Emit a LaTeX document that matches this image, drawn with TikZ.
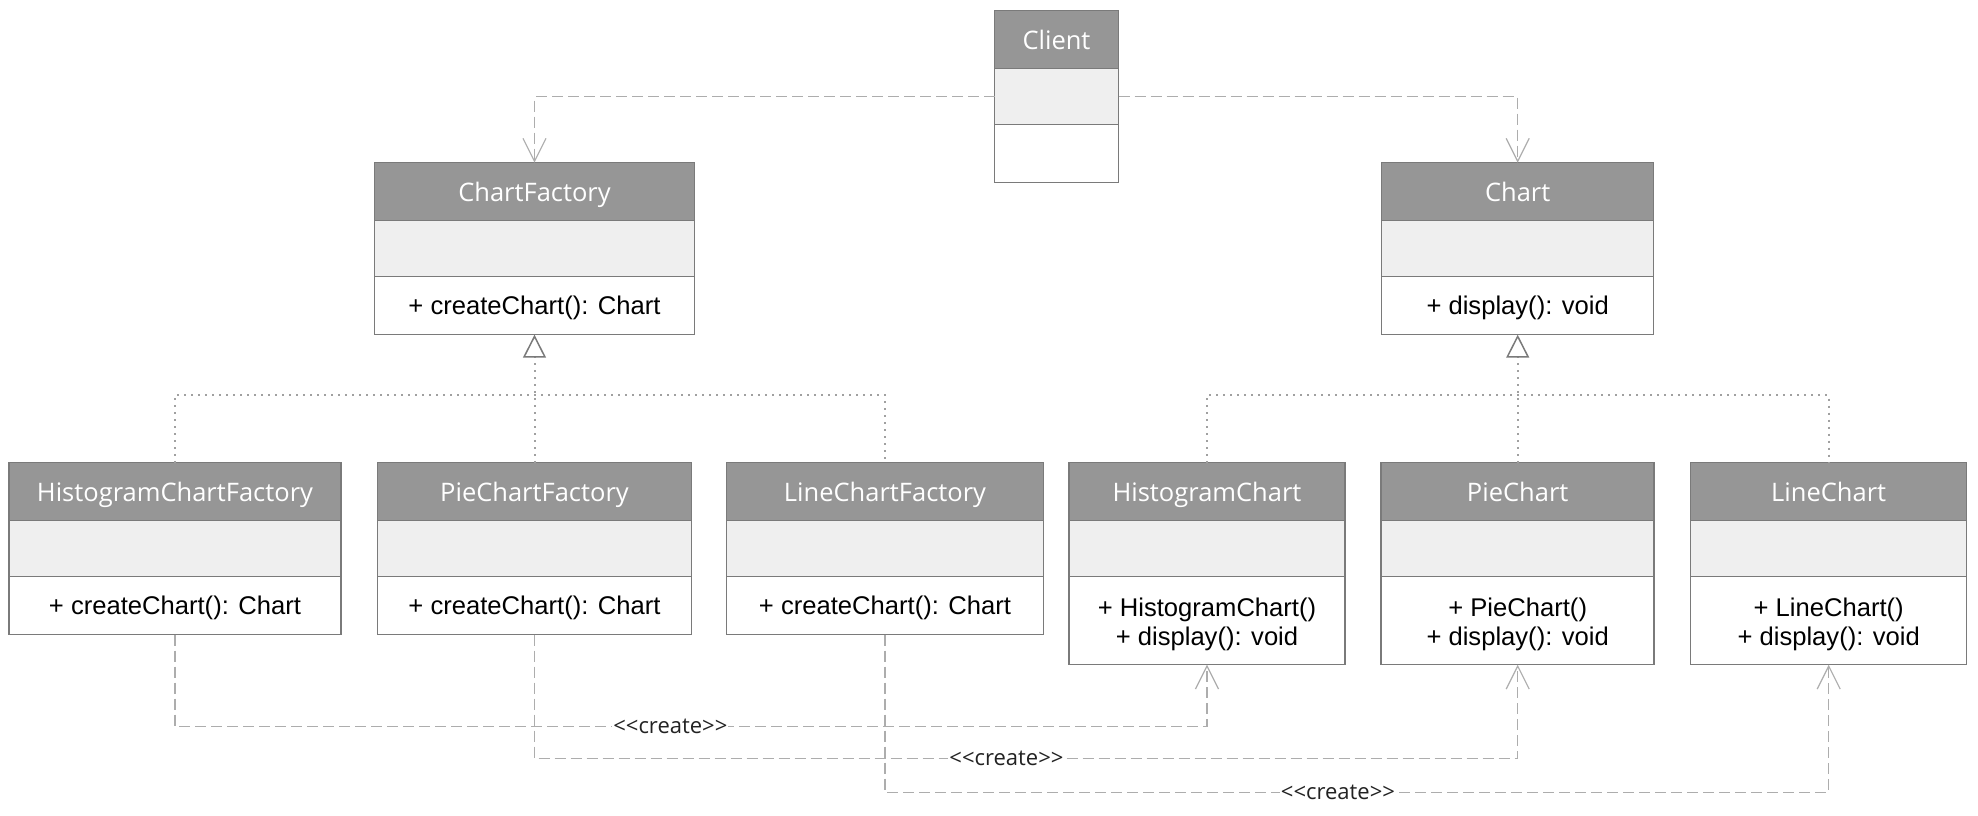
\documentclass[tikz,border=0pt]{standalone}
\usepackage{fontspec}
\setmainfont{Liberation Sans}
\newfontfamily\headfont{Open Sans}
\usepackage{tikz}
\usetikzlibrary{positioning,arrows.meta}
\definecolor{headgray}{HTML}{969696}
\definecolor{attrgray}{HTML}{EFEFEF}
\definecolor{boxgray}{HTML}{7A7A7A}
\definecolor{linegray}{HTML}{ADADAD}
\definecolor{dotgray}{HTML}{A0A0A0}
\definecolor{labelgray}{HTML}{222222}

\begin{document}
\begin{tikzpicture}[x=1pt, y=-1pt,
    classhead/.style={draw=boxgray, line width=1.5pt, fill=headgray, text=white,
      font=\headfont\fontsize{25.5}{30}\selectfont, minimum height=58pt,
      text height=19.5pt, text depth=0pt, inner sep=0pt, outer sep=0pt},
    classattr/.style={draw=boxgray, line width=1.5pt, fill=attrgray,
      minimum height=56pt, inner sep=0pt, outer sep=0pt},
    classops/.style={draw=boxgray, line width=1.5pt, fill=white, align=center,
      font=\fontsize{25.6}{29.5}\selectfont, minimum height=58pt,
      inner sep=0pt, outer sep=0pt},
    opsline/.style={text height=22pt, text depth=3.6pt},
    depend/.style={linegray, line width=1.5pt, dash pattern=on 11pt off 5pt,
      -{Straight Barb[length=23pt, width=23pt, line width=1.2pt]}},
    realize/.style={dotgray, line width=2pt, dash pattern=on 2pt off 5pt},
    stereo/.style={fill=white, text=labelgray, inner sep=1pt,
      font=\headfont\fontsize{22}{26}\selectfont}]
    \useasboundingbox (0,0) rectangle (1978,816);

    % Client
    \node[classhead, minimum width=124pt] (clienthead) at (1056.5,39.7) {Client};
    \node[classattr, minimum width=124pt, below=0pt of clienthead] (clientattr) {};
    \node[classops, minimum width=124pt, below=0pt of clientattr] (clientops) {};

    % Abstract factory and product
    \node[classhead, minimum width=320pt] (cfhead) at (534.5,191.7) {ChartFactory};
    \node[classattr, minimum width=320pt, below=0pt of cfhead] (cfattr) {};
    \node[classops, opsline, minimum width=320pt, below=0pt of cfattr] (cfops) {+ createChart(): Chart};

    \node[classhead, minimum width=272pt] (charthead) at (1517.7,191.7) {Chart};
    \node[classattr, minimum width=272pt, below=0pt of charthead] (chartattr) {};
    \node[classops, opsline, minimum width=272pt, below=0pt of chartattr] (chartops) {+ display(): void};

    % Concrete factories
    \node[classhead, minimum width=332pt] (hcfhead) at (175,491.7) {HistogramChartFactory};
    \node[classattr, minimum width=332pt, below=0pt of hcfhead] (hcfattr) {};
    \node[classops, opsline, minimum width=332pt, below=0pt of hcfattr] (hcfops) {+ createChart(): Chart};

    \node[classhead, minimum width=314pt] (pcfhead) at (534.5,491.7) {PieChartFactory};
    \node[classattr, minimum width=314pt, below=0pt of pcfhead] (pcfattr) {};
    \node[classops, opsline, minimum width=314pt, below=0pt of pcfattr] (pcfops) {+ createChart(): Chart};

    \node[classhead, minimum width=317pt] (lcfhead) at (885,491.7) {LineChartFactory};
    \node[classattr, minimum width=317pt, below=0pt of lcfhead] (lcfattr) {};
    \node[classops, opsline, minimum width=317pt, below=0pt of lcfattr] (lcfops) {+ createChart(): Chart};

    % Concrete products
    \node[classhead, minimum width=276pt] (hchead) at (1207,491.7) {HistogramChart};
    \node[classattr, minimum width=276pt, below=0pt of hchead] (hcattr) {};
    \node[classops, minimum width=276pt, minimum height=88pt, below=0pt of hcattr] (hcops)
      {\rule{0pt}{25.5pt}+ HistogramChart()\\+ display(): void};

    \node[classhead, minimum width=273pt] (pchead) at (1517.7,491.7) {PieChart};
    \node[classattr, minimum width=273pt, below=0pt of pchead] (pcattr) {};
    \node[classops, minimum width=273pt, minimum height=88pt, below=0pt of pcattr] (pcops)
      {\rule{0pt}{25.5pt}+ PieChart()\\+ display(): void};

    \node[classhead, minimum width=276pt] (lchead) at (1828.7,491.7) {LineChart};
    \node[classattr, minimum width=276pt, below=0pt of lchead] (lcattr) {};
    \node[classops, minimum width=276pt, minimum height=88pt, below=0pt of lcattr] (lcops)
      {\rule{0pt}{25.5pt}+ LineChart()\\+ display(): void};

    % Client uses factory and product
    \draw[depend] (clientattr.west) -| (cfhead.north);
    \draw[depend] (clientattr.east) -| (charthead.north);

    % Realizations
    \coordinate (bus) at (0,395);
    \draw[realize] (hcfhead.north) |- (lcfhead.north |- bus) -- (lcfhead.north);
    \draw[realize, -{Triangle[length=23pt, width=23pt, line width=1.5pt, color=boxgray, fill=white]}]
      (pcfhead.north) -- (cfops.south);
    \draw[realize] (hchead.north) |- (lchead.north |- bus) -- (lchead.north);
    \draw[realize, -{Triangle[length=23pt, width=23pt, line width=1.5pt, color=boxgray, fill=white]}]
      (pchead.north) -- (chartops.south);

    % Factories create products
    \coordinate (create1) at (0,726.3);
    \coordinate (create2) at (0,758.7);
    \coordinate (create3) at (0,792.3);
    \draw[depend] (hcfops.south) -- (hcfops.south |- create1)
      -- node[stereo, pos=0.48] {<\kern0pt<create>\kern0pt>} (hcops.south |- create1) -- (hcops.south);
    \draw[depend] (pcfops.south) -- (pcfops.south |- create2)
      -- node[stereo, pos=0.48] {<\kern0pt<create>\kern0pt>} (pcops.south |- create2) -- (pcops.south);
    \draw[depend] (lcfops.south) -- (lcfops.south |- create3)
      -- node[stereo, pos=0.48] {<\kern0pt<create>\kern0pt>} (lcops.south |- create3) -- (lcops.south);
\end{tikzpicture}
\end{document}
